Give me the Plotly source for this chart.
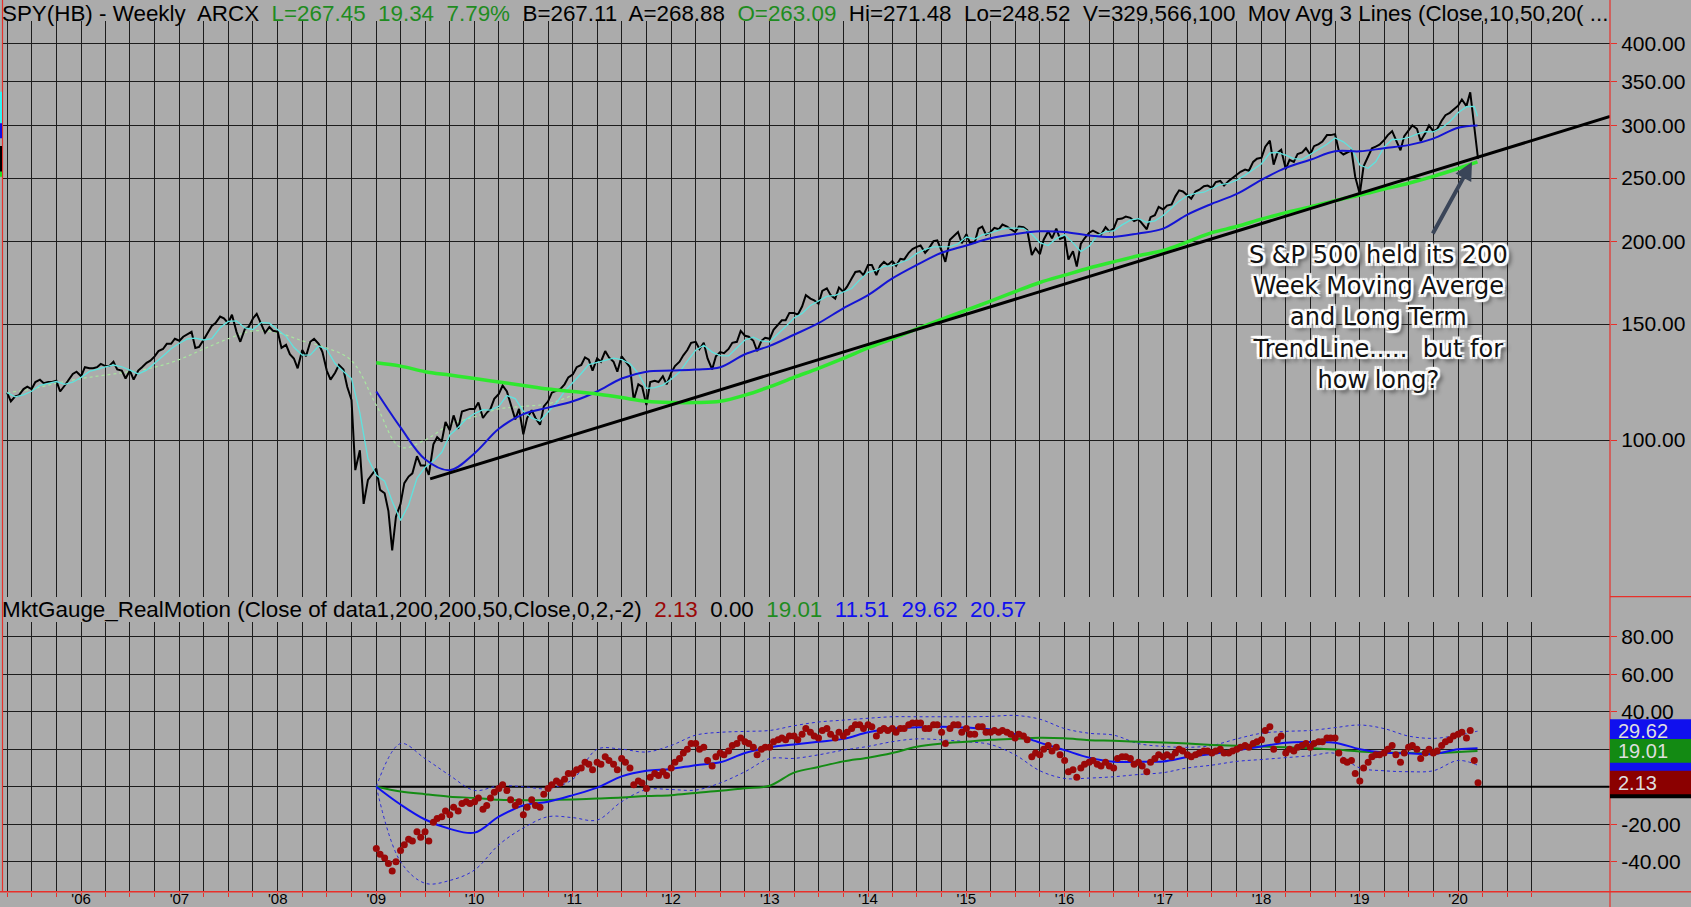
import pandas as pd
import plotly.graph_objects as go

W, H = 1691, 907
BG = "#ababab"
GRID = "#1c1c1c"
RED = "#e8302a"
FONT = "Liberation Sans, Arial, sans-serif"

# ---------------- price panel (SPY weekly, read on the 1st and 15th of each month) ----------------
close_start = "2005-04-01"
close = [
    118.0, 114.5, 116.5, 117.0, 119.5, 120.5, 119.5, 122.5, 123.5, 122.0, 122.5, 122.5, 123.0, 118.5, 121.0, 123.5, 126.0, 127.0,
    125.0, 129.0, 128.5, 128.5, 129.0, 130.5, 129.5, 129.5, 131.5, 128.0, 127.5, 124.0, 127.5, 123.5, 127.5, 129.0, 131.0, 132.0, 134.0, 136.5, 137.5, 140.0, 140.0, 142.5,
    141.5, 143.5, 145.0, 146.0, 138.0, 138.5, 142.0, 145.0, 149.0, 150.5, 154.0, 153.0, 150.5, 155.0, 146.0, 141.0, 147.5, 148.5, 153.0, 155.5, 150.0, 145.5, 148.5, 146.5,
    146.0, 138.0, 139.5, 135.0, 133.0, 128.5, 137.0, 134.0, 141.0, 142.5, 140.0, 136.0, 127.5, 123.5, 126.5, 130.0, 128.0, 120.5, 115.0, 90.0, 96.5, 80.0, 87.0, 88.5,
    90.5, 84.0, 83.0, 78.0, 68.0, 76.5, 80.0, 86.0, 88.0, 89.0, 94.5, 91.5, 91.5, 88.5, 98.5, 101.0, 99.5, 106.5, 103.5, 109.0, 104.0, 110.5, 111.0, 111.5,
    111.5, 114.0, 108.0, 110.0, 111.5, 115.5, 117.5, 121.0, 118.5, 113.5, 107.5, 111.5, 102.0, 108.0, 111.0, 108.0, 105.5, 112.5, 114.5, 118.0, 119.0, 119.5, 121.5, 124.5,
    125.8, 129.0, 130.0, 133.5, 132.5, 127.5, 133.0, 131.5, 136.5, 133.5, 131.5, 127.0, 134.0, 131.5, 129.0, 115.0, 121.5, 120.5, 113.0, 122.5, 123.0, 122.5, 125.0, 121.5,
    126.5, 129.5, 131.5, 134.5, 137.0, 140.5, 141.0, 137.5, 140.5, 133.0, 128.0, 134.0, 136.0, 135.5, 137.5, 140.5, 141.0, 146.5, 144.0, 143.5, 141.5, 136.5, 141.5, 143.0,
    142.5, 147.0, 150.0, 152.0, 152.0, 156.0, 156.0, 155.0, 159.5, 166.0, 164.0, 163.0, 161.0, 168.5, 170.0, 166.0, 164.0, 170.5, 168.0, 171.0, 176.0, 180.0, 180.5, 178.0,
    184.5, 184.5, 178.0, 184.0, 186.5, 184.5, 187.0, 184.0, 188.5, 188.0, 192.5, 195.0, 196.5, 197.5, 192.5, 195.5, 200.5, 201.0, 194.0, 186.5, 201.5, 204.0, 207.0, 199.0,
    205.5, 199.0, 199.5, 209.5, 211.0, 205.0, 207.0, 210.0, 209.0, 212.5, 211.0, 209.0, 207.0, 211.0, 210.5, 208.5, 191.0, 195.5, 191.5, 201.5, 207.5, 202.5, 209.5, 202.0,
    203.5, 188.0, 193.5, 183.5, 198.5, 202.5, 206.5, 208.0, 206.5, 205.0, 210.5, 207.5, 209.5, 216.5, 217.0, 218.5, 217.5, 215.0, 216.5, 213.0, 209.0, 218.0, 219.5, 226.0,
    224.0, 227.0, 228.0, 234.5, 239.5, 238.5, 235.5, 232.5, 238.5, 240.0, 243.0, 243.5, 241.5, 246.5, 247.5, 243.5, 247.5, 250.0, 252.5, 255.5, 257.5, 256.5, 264.5, 267.5,
    268.5, 279.0, 285.0, 262.0, 273.0, 276.0, 258.0, 266.5, 264.5, 272.0, 273.5, 277.5, 271.5, 279.5, 281.5, 284.0, 290.5, 290.5, 291.5, 275.0, 271.5, 273.5, 275.5, 251.0,
    236.5, 260.5, 270.0, 277.5, 279.0, 281.0, 285.5, 290.5, 294.5, 285.5, 275.5, 289.5, 295.5, 300.5, 297.0, 284.5, 292.5, 300.5, 294.5, 296.5, 305.5, 311.5, 314.0, 317.5,
    322.0, 329.0, 321.5, 337.5, 296.0, 267.45,
]

# 10-week average (cyan), read on the 1st of each month; last value is the last bar
last_bar = "2020-03-13"
ma10_start = "2005-04-01"
ma10 = [
    118.0, 116.3, 117.1, 118.6, 121.1, 122.0, 122.7, 121.5, 122.4,
    124.5, 127.1, 128.0, 129.2, 130.0, 129.2, 127.7, 126.0, 127.7, 130.7, 134.2, 137.6,
    140.3, 142.5, 142.8, 141.9, 142.5, 148.1, 151.4, 151.7, 148.0, 147.2, 150.9, 150.5,
    147.3, 143.7, 138.3, 134.6, 134.7, 138.9, 137.4, 130.7, 127.1, 124.0, 110.0, 93.7,
    88.5, 86.6, 80.7, 75.5, 79.7, 87.5, 90.9, 92.9, 95.8, 101.8, 104.5, 107.6,
    109.7, 111.2, 111.0, 112.5, 116.8, 115.6, 110.6, 108.0, 106.9, 110.3, 113.9, 118.5,
    122.1, 126.2, 130.2, 131.3, 132.2, 133.2, 132.5, 130.6, 126.2, 119.8, 120.1, 121.2,
    123.7, 126.8, 131.8, 136.9, 139.3, 136.0, 134.3, 134.2, 138.1, 141.9, 143.3, 141.4,
    141.0, 144.8, 148.7, 153.2, 155.7, 160.1, 162.7, 165.3, 165.9, 167.7, 169.9, 175.1,
    179.8, 181.1, 183.5, 184.0, 186.1, 188.0, 192.1, 194.8, 196.5, 196.7, 196.7, 198.6,
    203.4, 202.0, 204.9, 206.4, 208.4, 209.9, 209.7, 209.7, 205.6, 199.4, 197.4, 202.5,
    205.0, 199.3, 193.4, 196.9, 204.4, 207.3, 207.8, 212.2, 215.8, 216.9, 214.2, 215.2,
    219.3, 224.9, 230.6, 235.2, 236.9, 237.9, 241.3, 244.4, 245.3, 248.2, 252.6, 257.3,
    262.9, 272.9, 273.5, 270.8, 267.6, 266.9, 271.8, 276.7, 281.4, 287.6, 283.8, 277.4,
    261.6, 258.7, 264.7, 278.6, 286.1, 286.3, 288.1, 291.6, 294.0, 293.8, 297.9, 304.4,
    314.1, 320.8, 321.2, 310.3,
]

# faint dotted average, quarterly
alt_start = "2005-04-01"
ma_alt = [118.0, 119.5, 122.0, 124.0, 125.5, 127.0, 129.0, 132.5, 137.5, 142.5, 146.5, 145.5,
          141.5, 138.0, 132.0, 113.0, 97.5, 100.0, 105.5, 108.5, 111.5, 112.5, 113.5, 117.0]

# indicator lines start in 2009, read quarterly; last value is the last bar
ind_start = "2009-01-01"
ma50 = [118.5, 104.5, 93.5, 90.0, 95.5, 104.0, 109.5, 112.0, 114.5, 118.5, 124.0, 127.0,
        127.5, 128.0, 129.0, 135.0, 139.0, 144.5, 150.5, 158.5, 166.0, 176.0, 184.5, 192.5,
        197.5, 202.5, 205.5, 207.5, 207.0, 204.5, 203.5, 206.0, 209.5, 220.0, 228.5, 236.5,
        248.5, 259.0, 266.5, 274.5, 274.5, 277.5, 280.5, 287.0, 298.0, 300.5]
ma200 = [131.0, 129.5, 127.0, 125.5, 124.0, 122.5, 121.0, 119.5, 118.5, 117.5, 116.0, 114.5,
         114.0, 114.0, 114.5, 117.0, 120.5, 124.5, 128.5, 133.0, 138.0, 142.5, 147.5, 152.5,
         157.5, 162.5, 168.0, 173.5, 178.0, 182.5, 186.5, 190.5, 194.0, 200.0, 206.5, 211.0,
         216.5, 221.5, 226.0, 231.0, 235.5, 240.5, 245.5, 251.5, 258.5, 264.5]

trend_dates = ["2009-07-20", "2021-07-18"]
trend_vals = [87.3, 310.0]

price_ticks = [100, 150, 200, 250, 300, 350, 400]

# ---------------- RealMotion panel ----------------
realmotion = [
    -33, -36, -38, -41, -45, -40, -34, -31, -28, -29, -24, -27, -24, -29, -19, -17, -16, -13, -15, -11, -13, -9, -8, -9,
    -8, -6, -12, -10, -6, -3, -1, 1, -2, -7, -10, -8, -15, -11, -7, -10, -11, -4, -1, 1, 3, 2, 4, 7,
    7, 9, 10, 13, 12, 9, 13, 12, 16, 14, 12, 9, 15, 13, 10, 1, 3, 2, -1, 5, 7, 6, 8, 6,
    10, 13, 15, 18, 20, 23, 23, 20, 21, 14, 11, 16, 18, 17, 19, 22, 23, 26, 24, 23, 21, 17, 20, 21,
    21, 24, 25, 26, 25, 27, 27, 25, 28, 31, 29, 27, 26, 30, 31, 28, 26, 29, 27, 29, 31, 33, 33, 31,
    33, 32, 27, 30, 31, 30, 31, 29, 31, 31, 33, 34, 34, 34, 31, 31, 33, 33, 29, 23, 31, 33, 33, 29,
    31, 28, 28, 32, 32, 29, 29, 30, 29, 30, 29, 28, 26, 28, 27, 25, 16, 18, 17, 20, 22, 19, 21, 17,
    14, 8, 9, 5, 10, 12, 13, 14, 12, 11, 13, 11, 10, 15, 16, 16, 15, 12, 13, 11, 8, 13, 15, 17,
    16, 17, 16, 18, 20, 19, 17, 16, 17, 18, 19, 19, 18, 19, 20, 18, 18, 19, 20, 21, 22, 21, 23, 24,
    25, 30, 32, 20, 25, 27, 18, 20, 19, 21, 22, 23, 21, 23, 24, 24, 26, 26, 26, 18, 14, 13, 14, 7,
    3, 10, 13, 16, 17, 17, 18, 20, 22, 17, 13, 18, 21, 22, 20, 15, 18, 20, 18, 19, 22, 24, 25, 27,
    28, 29, 26, 30, 14, 2.13,
]
rm_avg = [0.0, -9.5, -17.5, -22.5, -24.5, -16.0, -10.0, -8.0, -4.5, -0.5, 5.5, 8.5,
          9.5, 11.5, 13.0, 18.0, 21.0, 22.5, 24.0, 25.5, 29.0, 31.0, 31.7, 32.0,
          31.5, 30.5, 28.0, 23.5, 19.5, 15.5, 13.3, 13.3, 13.5, 15.8, 17.5, 19.5,
          21.5, 23.5, 23.8, 23.5, 20.0, 18.2, 17.8, 17.4, 20.0, 20.57]
rm_slow = [0.0, -2.5, -4.0, -5.3, -6.0, -7.0, -7.2, -7.1, -6.8, -6.3, -5.8, -5.0,
           -4.5, -3.3, -2.2, -0.8, 0.5, 7.5, 10.5, 13.5, 15.5, 18.0, 21.3, 23.0,
           24.0, 25.0, 25.6, 26.1, 25.8, 24.8, 24.5, 24.0, 23.6, 23.0, 22.3, 21.8,
           21.5, 21.0, 20.5, 19.8, 18.8, 18.3, 18.0, 17.8, 18.5, 19.01]
rm_upper = [0, 23, 15, 6, -2, 0.5, 0, -1, 4, 20, 20, 18.5,
            22, 27.5, 29, 29.5, 30, 32.5, 34.5, 35.5, 36.5, 37.3, 37.3, 37.3,
            37.3, 37.5, 38.0, 36.0, 31.0, 28.5, 27.5, 23.0, 21.5, 21.0, 22.0, 25.5,
            28.5, 29.5, 30.0, 31.5, 32.9, 31.0, 27.0, 25.8, 27.5, 29.62]
rm_lower = [0, -40, -51.5, -50, -44.4, -31, -22, -16, -16.5, -17.8, -8, -1.5,
            -1.5, -1.8, 2.0, 8.0, 15.0, 15.1, 17.0, 19.5, 21.5, 24.0, 25.5, 25.0,
            24.0, 22.5, 17.0, 8.5, 4.4, 4.6, 5.3, 6.5, 7.5, 10.0, 11.5, 13.5,
            14.5, 15.5, 16.5, 17.8, 10.0, 8.5, 8.0, 8.5, 14.0, 11.51]
zero_dates = ["2009-01-01", "2021-07-18"]
zero_vals = [0, 0]

rm_ticks = [80, 60, 40, 20, 0, -20, -40]
rm_ticktext = ["80.00", "60.00", "40.00", "", "", "-20.00", "-40.00"]  # 20 and 0 sit under the value tags

# value tags at the right edge of the indicator pane (drawn in this order)
tag_values = [0.00, 11.51, 2.13, 29.62, 19.01]
tag_colors = ["#000000", "#1010ee", "#8b0000", "#1010ee", "#138a13"]
tag_labels = ["", "", "2.13", "29.62", "19.01"]

# ---------------- x positions ----------------
close_x = pd.date_range(close_start, periods=len(close), freq="SMS")
ma10_x = list(pd.date_range(ma10_start, periods=len(ma10) - 1, freq="MS")) + [pd.Timestamp(last_bar)]
alt_x = pd.date_range(alt_start, periods=len(ma_alt), freq="QS")
q_x = list(pd.date_range(ind_start, periods=len(ma50) - 1, freq="QS")) + [pd.Timestamp(last_bar)]
rm_x = pd.date_range(ind_start, periods=len(realmotion), freq="SMS")

# the platform only draws date lines up to the end of its time scale (Oct 2020)
year_ticks = pd.date_range("2006-01-01", "2020-01-01", freq="YS")
quarter_ticks = pd.date_range("2005-04-01", "2020-10-01", freq="QS")


def px(x):
    return x / W


def py(y):
    return 1 - y / H


fig = go.Figure()
top = dict(xaxis="x", yaxis="y", hoverinfo="skip")
fig.add_trace(go.Scatter(x=alt_x, y=ma_alt, mode="lines",
                         line=dict(color="#a8e6a0", width=1.2, dash="dot", shape="spline"), **top))
fig.add_trace(go.Scatter(x=close_x, y=close, mode="lines", line=dict(color="black", width=2), **top))
fig.add_trace(go.Scatter(x=ma10_x, y=ma10, mode="lines", line=dict(color="#5fe2de", width=1.3), **top))
fig.add_trace(go.Scatter(x=q_x, y=ma50, mode="lines", line=dict(color="#1414d4", width=2, shape="spline"), **top))
fig.add_trace(go.Scatter(x=q_x, y=ma200, mode="lines", line=dict(color="#2ee82e", width=3.5, shape="spline"), **top))
fig.add_trace(go.Scatter(x=trend_dates, y=trend_vals, mode="lines", line=dict(color="black", width=3), **top))

bot = dict(xaxis="x2", yaxis="y2", hoverinfo="skip")
fig.add_trace(go.Scatter(x=zero_dates, y=zero_vals, mode="lines", line=dict(color="black", width=2), **bot))
for band in (rm_upper, rm_lower):
    fig.add_trace(go.Scatter(x=q_x, y=band, mode="lines",
                             line=dict(color="#2a2ad8", width=1, dash="dot", shape="spline"), **bot))
fig.add_trace(go.Scatter(x=q_x, y=rm_slow, mode="lines", line=dict(color="#148c14", width=2, shape="spline"), **bot))
fig.add_trace(go.Scatter(x=q_x, y=rm_avg, mode="lines", line=dict(color="#1010f0", width=2, shape="spline"), **bot))
fig.add_trace(go.Scatter(x=rm_x, y=realmotion, mode="markers",
                         marker=dict(color="#9a0808", size=7, line_width=0), **bot))

x_range = ["2005-03-15", "2021-07-18"]
x_domain = [px(2.5), px(1610)]
tickfont = dict(family=FONT, size=21, color="black")
xgrid = dict(type="date", range=x_range, domain=x_domain, tickmode="array", tickvals=year_ticks,
             showgrid=True, gridcolor=GRID, gridwidth=1, zeroline=False, showline=False)

fig.update_layout(
    width=W, height=H, margin=dict(l=0, r=0, t=0, b=0),
    paper_bgcolor=BG, plot_bgcolor=BG, showlegend=False,
    xaxis=dict(**xgrid, anchor="y", showticklabels=False, ticks="",
               minor=dict(tickmode="array", tickvals=quarter_ticks, showgrid=True, gridcolor=GRID, gridwidth=1)),
    # date labels sit in the thin strip under the pane; kept small so they stay inside the page
    xaxis2=dict(**xgrid, anchor="y2", matches="x", tickformat="'%y",
                ticks="outside", ticklen=4, tickcolor=RED, ticklabelstandoff=-11,
                tickfont=dict(family=FONT, size=15, color="black"),
                minor=dict(tickmode="array", tickvals=quarter_ticks, showgrid=True, gridcolor=GRID, gridwidth=1,
                           ticks="outside", ticklen=4, tickcolor=RED)),
    yaxis=dict(type="log", domain=[py(596.7), 1], range=[1.7620, 2.6684], side="right", anchor="x",
               tickvals=price_ticks, tickformat=".2f", showgrid=True, gridcolor=GRID, gridwidth=1,
               ticks="outside", ticklen=6, tickcolor=RED, tickfont=tickfont, zeroline=False, showline=False),
    yaxis2=dict(domain=[py(891.7), py(622)], range=[-56, 87.84], side="right", anchor="x2",
                tickvals=rm_ticks, ticktext=rm_ticktext, showgrid=True, gridcolor=GRID, gridwidth=1,
                ticks="outside", ticklen=6, tickcolor=RED, tickfont=tickfont, zeroline=False, showline=False),
)

shapes = [
    # blank strip behind the top header text
    dict(type="rect", xref="paper", yref="paper", x0=px(2.5), x1=px(1610), y0=py(21), y1=1,
         fillcolor=BG, line_width=0, layer="above"),
    # red frame lines
    dict(type="line", xref="paper", yref="paper", x0=px(2.5), x1=px(2.5), y0=py(891.7), y1=1,
         line=dict(color=RED, width=1.2), layer="above"),
    dict(type="line", xref="paper", yref="paper", x0=px(1610), x1=px(1610), y0=0, y1=1,
         line=dict(color=RED, width=1.2), layer="above"),
    dict(type="line", xref="paper", yref="paper", x0=0, x1=1, y0=py(891.7), y1=py(891.7),
         line=dict(color=RED, width=1.5), layer="above"),
    dict(type="line", xref="paper", yref="paper", x0=px(1610), x1=1, y0=py(596.7), y1=py(596.7),
         line=dict(color=RED, width=1.2), layer="above"),
]
# clipped tags at the left edge
for y0, y1, c in [(91.7, 123.3, "#33f0f0"), (123.3, 138.3, "#1010e0"), (146, 171.7, "#000000"),
                  (171.7, 176.7, "#22dd22")]:
    shapes.append(dict(type="rect", xref="paper", yref="paper", x0=0, x1=px(2), y0=py(y1), y1=py(y0),
                       fillcolor=c, line_width=0, layer="above"))
for v, c in zip(tag_values, tag_colors):
    shapes.append(dict(type="rect", xref="paper", yref="y2", x0=px(1610), x1=1, y0=v - 6.2, y1=v + 6.4,
                       fillcolor=c, line_width=0, layer="above"))
fig.update_layout(shapes=shapes)

NB = "\u00a0"
green = "#1f8c1f"
header = (f"SPY(HB) - Weekly{NB} ARCX{NB} "
          f"<span style='color:{green}'>L=267.45{NB} 19.34{NB} 7.79%</span>{NB} "
          f"B=267.11{NB} A=268.88{NB} <span style='color:{green}'>O=263.09</span>{NB} "
          f"Hi=271.48{NB} Lo=248.52{NB} V=329,566,100{NB} Mov Avg 3 Lines (Close,10,50,20( ...")
sub_header = (f"MktGauge_RealMotion (Close of data1,200,200,50,Close,0,2,-2){NB} "
              f"<span style='color:#9a0808'>2.13</span>{NB} 0.00{NB} "
              f"<span style='color:{green}'>19.01</span>{NB} "
              f"<span style='color:#1010ee'>11.51{NB} 29.62{NB} 20.57</span>")

halo = ("2.5px 2.5px 1px #fff, -2.5px -2.5px 1px #fff, 2.5px -2.5px 1px #fff, -2.5px 2.5px 1px #fff, "
        "0 2.5px 1px #fff, 2.5px 0 1px #fff, 0 -2.5px 1px #fff, -2.5px 0 1px #fff, 4px 4px 4px #333")
annotations = [
    dict(text=header, xref="paper", yref="paper", x=0, y=py(13), xanchor="left", yanchor="middle",
         showarrow=False, font=dict(family=FONT, size=22.4, color="black")),
    dict(text=sub_header, xref="paper", yref="paper", x=0, y=py(609), xanchor="left", yanchor="middle",
         showarrow=False, font=dict(family=FONT, size=22.4, color="black")),
    dict(text="", xref="paper", yref="paper", x=px(1472), y=py(162), ax=-40, ay=73,
         showarrow=True, arrowhead=2, arrowsize=0.9, arrowwidth=4, arrowcolor="#3a4558"),
    dict(text="S &P 500 held its 200<br>Week Moving Averge<br>and Long Term<br>TrendLine.....  but for<br>how long?",
         xref="paper", yref="paper", x=px(1378), y=py(318), xanchor="center", yanchor="middle",
         align="center", showarrow=False,
         font=dict(family="DejaVu Sans, sans-serif", size=24, color="#111111", shadow=halo)),
]
for v, lab in zip(tag_values, tag_labels):
    if lab:
        annotations.append(dict(text=lab, xref="paper", yref="y2", x=px(1617), y=v, xanchor="left",
                                yanchor="middle", showarrow=False, borderpad=0,
                                font=dict(family=FONT, size=20, color="#dedede")))
fig.update_layout(annotations=annotations)

# page body without the browser's default margin
page_js = ("document.body.style.margin='0';"
           "document.getElementById('{plot_id}').style.overflow='hidden';")
fig.write_html("out.html", config={"displayModeBar": False}, post_script=page_js)
